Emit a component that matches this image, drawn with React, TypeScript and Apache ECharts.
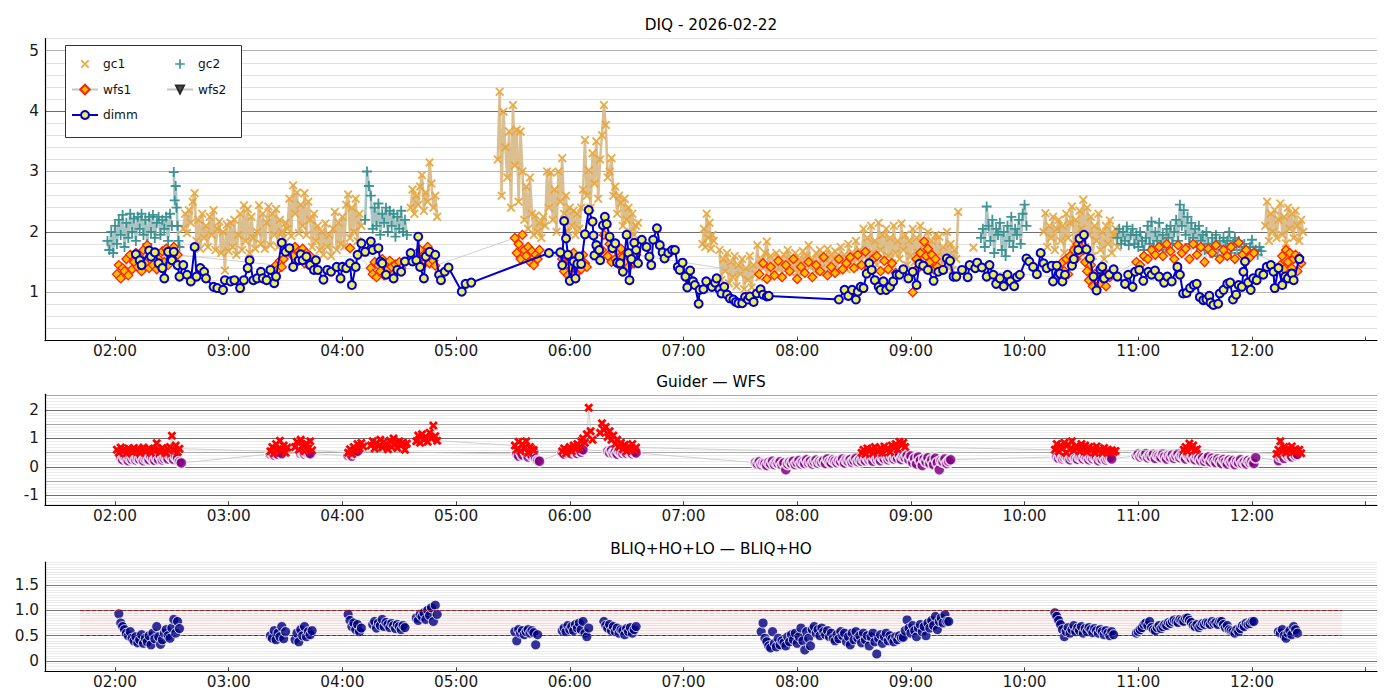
import { useEffect, useRef } from "react";
import * as echarts from "echarts";

// Seeing monitor night summary: DIQ (top), guider vs WFS (middle), BLIQ ratio (bottom).
// Times are local "HH:MM[:SS]"; a segment is [start, step in minutes, values].
type Seg = [string, number, number[]];

const TITLE_TOP = "DIQ - 2026-02-22";
const TITLE_MID = "Guider \u2014 WFS";
const TITLE_BOT = "BLIQ+HO+LO \u2014 BLIQ+HO";

const HOUR_TICKS = [2, 3, 4, 5, 6, 7, 8, 9, 10, 11, 12, 13];
const HOUR_LABELS = [2, 3, 4, 5, 6, 7, 8, 9, 10, 11, 12];
const X_MIN = 1.384;
const X_MAX = 13.1;

const GC1: Seg[] = [
  ["02:36", 1, [2.05, 2.3, 1.98, 2.36, 2.15, 2.5, 2.64, 1.85, 2.2, 1.72, 2.3, 1.9, 2.1, 1.75, 2.25, 1.95, 2.36, 1.7, 2.05, 2.17,
    1.65, 2.0, 1.36, 2.12, 1.68, 2.15, 1.75, 2.2, 1.62, 1.95, 2.3, 1.7, 2.44, 1.85, 2.38, 1.65, 2.25, 1.9, 1.72, 2.0,
    2.44, 1.8, 2.3, 1.72, 2.15, 2.42, 1.78, 2.3, 1.95, 2.38, 1.75, 2.2, 2.0, 1.9, 2.15, 2.05, 2.55, 1.93, 2.77, 2.3,
    2.65, 1.98, 2.45, 2.1, 2.64, 1.95, 2.5, 2.2, 1.75, 2.3, 1.85, 2.1, 1.7, 2.0, 1.62, 2.14, 1.75, 1.95, 1.6, 2.05,
    2.33, 1.7, 2.15, 1.8, 2.25, 1.76, 2.45, 2.62, 1.9, 2.4, 2.0, 2.55, 1.85, 2.3, 2.1]],
  ["04:36", 1, [2.4, 2.7, 2.3, 2.6, 2.45, 2.75, 2.94, 2.35, 2.65, 2.5, 3.15, 2.8, 2.4, 2.6, 2.25]],
  ["05:22", 1, [3.2, 4.32, 2.6, 3.99, 3.4, 2.9, 3.66, 2.4, 4.1, 3.1, 3.69, 2.5, 3.66, 3.0, 2.2, 2.75, 2.05, 2.9, 2.3, 1.95,
    2.27, 2.0, 2.15, 1.9, 2.25, 2.1, 3.0, 2.4, 2.98, 2.2, 2.7, 2.0, 3.0, 2.5, 3.22, 2.3, 2.6, 2.0, 2.4, 2.1,
    2.35, 1.95, 2.3, 2.05, 2.4, 2.7, 3.52, 2.6, 3.02, 2.4, 3.3, 2.8, 3.5, 2.55, 3.2, 3.6, 4.1, 3.77, 2.9, 3.0,
    3.22, 2.6, 2.75, 2.3, 2.6, 2.48, 2.1, 2.55, 2.2, 2.4, 2.0, 2.3, 1.95, 2.1, 2.15]],
  ["07:10", 0.75, [1.8, 2.05, 1.75, 2.3, 1.9, 2.15, 1.72, 1.95, 1.85]],
  ["07:19", 1, [1.7, 1.2, 1.55, 1.35, 1.65, 1.15, 1.5, 1.25, 1.6, 1.1, 1.45, 1.3, 1.55, 1.05, 1.4, 1.2, 1.6, 1.08, 1.45, 1.3,
    1.78, 1.25, 1.55, 1.4, 1.65, 1.84, 1.35, 1.6, 1.45, 1.3, 1.65, 1.4, 1.55, 1.32, 1.62, 1.45, 1.7, 1.35, 1.58, 1.4,
    1.65, 1.33, 1.55, 1.45, 1.68, 1.38, 1.6, 1.78, 1.42, 1.55, 1.35, 1.65, 1.45, 1.7, 1.4, 1.58, 1.33, 1.72, 1.48, 1.62,
    1.4, 1.68, 1.36, 1.55, 1.75, 1.45, 1.62, 1.38, 1.8, 1.5, 1.66, 1.42, 1.85, 1.55, 1.7, 1.45, 2.05, 1.6, 1.9, 1.5,
    2.1, 1.65, 1.85, 1.45, 2.15, 1.7, 1.95, 1.55, 2.05, 1.6, 1.9, 1.48, 2.1, 1.65, 1.85, 1.55, 2.14, 1.7, 1.95, 1.45,
    1.85, 1.6, 2.05, 1.5, 1.9, 1.65, 2.1, 1.45, 1.8, 1.58, 2.0, 1.5, 1.85, 1.4, 1.95, 1.6, 1.92, 1.45, 1.75, 1.55,
    2.0, 1.4, 1.8, 1.37, 1.7, 1.55, 2.33]],
  ["09:33", 1, [1.74]],
  ["10:10", 1, [2.0, 2.31, 1.75, 2.1, 1.9, 2.25, 1.7, 2.05, 2.2, 1.85, 2.1, 1.65, 2.3, 1.9, 2.15, 2.42, 1.8, 2.2, 1.6, 2.35,
    2.05, 2.53, 1.75, 2.4, 1.95, 2.25, 1.6, 2.1, 1.85, 2.3, 1.7, 2.0, 1.55, 2.1, 1.8, 2.19, 1.65, 1.95, 2.05, 1.75]],
  ["12:07", 1, [2.1, 2.5, 1.85, 2.3, 2.0, 2.36, 1.9, 2.2, 2.47, 1.95, 2.25, 1.81, 2.4, 2.05, 2.3, 1.9, 2.35, 2.1, 1.85, 2.2, 2.0]],
];

const GC2: Seg[] = [
  ["01:56", 1, [1.85, 1.7, 2.0, 1.65, 2.1, 1.8, 2.2, 1.95, 2.28, 1.75, 2.15, 1.9, 2.3, 2.0, 2.22, 1.85, 2.25, 2.05, 2.3, 1.95,
    2.2, 1.8, 2.25, 2.0, 2.28, 1.9, 2.15, 2.25, 1.95, 2.2, 2.05, 2.25, 1.85, 2.3, 2.1]],
  ["02:31", 0.5, [2.99, 2.52, 2.76, 2.4, 2.1, 1.85, 1.75]],
  ["04:12", 1, [2.2, 3.0, 2.76, 2.6, 2.05, 2.4, 2.1, 2.47, 1.95, 2.3, 2.15, 2.4, 2.0, 2.35, 2.1, 2.3, 1.92, 2.25, 2.05, 2.35,
    2.0, 2.2, 1.95]],
  ["09:37", 1, [1.9, 2.05, 1.75, 2.42, 2.1, 1.85, 2.2, 1.65, 2.05, 1.95, 2.15, 1.7, 2.0, 1.6, 2.1, 1.85, 2.25, 1.75, 2.05, 1.95,
    2.2, 1.8, 2.3, 2.45, 2.1]],
  ["10:49", 1, [1.9, 2.05, 1.8, 2.0, 1.85, 2.09, 1.78, 1.95, 2.05, 1.8, 1.95, 1.75, 2.0, 1.85, 1.7, 1.9, 2.1, 1.8, 2.17, 1.75,
    2.0, 1.85, 2.15, 1.78, 1.95, 1.7, 2.05, 1.9, 2.1, 1.8, 2.0, 2.2, 1.85, 2.45, 2.1, 2.36, 1.95, 2.25, 1.8, 2.15,
    1.9, 2.05, 1.75, 2.1, 1.85, 1.95, 1.7, 2.0, 1.8, 1.65, 1.9, 1.75, 1.95, 1.6, 1.85, 1.7, 1.9, 1.75, 1.85, 2.0,
    1.65, 1.8, 1.9, 1.7, 1.85, 1.75, 1.65, 1.8, 1.7, 1.6, 1.75, 1.87, 1.65, 1.7, 1.62, 1.75, 1.68]],
];

const WFS1: Seg[] = [
  ["02:01", 1, [1.3, 1.45, 1.23, 1.4, 1.35, 1.55, 1.28, 1.62, 1.38, 1.5, 1.65, 1.42, 1.58, 1.35, 1.7, 1.48, 1.78, 1.4, 1.6, 1.45,
    1.62, 1.38, 1.55, 1.42, 1.68, 1.5, 1.72, 1.45, 1.65, 1.58, 1.75, 1.5, 1.62]],
  ["03:25", 1, [1.45, 1.38, 1.52, 1.42, 1.55]],
  ["03:34", 1, [1.6, 1.75, 1.5, 1.68, 1.58, 1.72, 1.48, 1.65, 1.55, 1.6]],
  ["04:04", 1, [1.73]],
  ["04:15", 1, [1.4, 1.3, 1.5, 1.25, 1.45, 1.35, 1.55, 1.28, 1.48, 1.38, 1.52, 1.42, 1.3, 1.46, 1.36, 1.5, 1.4]],
  ["04:40", 1, [1.55, 1.7, 1.45, 1.62, 1.5, 1.75, 1.48, 1.6, 1.52, 1.44]],
  ["05:31", 1, [1.9, 1.65, 1.8, 1.55, 1.95, 1.7, 1.6, 1.75, 1.5, 1.68, 1.45, 1.62, 1.55, 1.7]],
  ["05:56", 1, [1.55, 1.35, 1.6, 1.28, 1.5, 1.4, 1.65, 1.3, 1.45, 1.55, 1.38, 1.62, 1.48, 1.42]],
  ["06:17", 1, [1.7, 1.95, 2.14, 1.6, 1.8, 1.5, 1.75, 1.55, 1.68, 1.45, 1.72, 1.58, 1.5, 1.65, 1.42, 1.6, 1.55, 1.48, 1.62]],
  ["07:40", 2, [1.3, 1.48, 1.22, 1.42, 1.28, 1.52, 1.25, 1.45, 1.35, 1.55, 1.22, 1.42, 1.32, 1.5, 1.25, 1.45, 1.35, 1.58, 1.28, 1.42,
    1.32, 1.55, 1.38, 1.48, 1.58, 1.4, 1.62, 1.45, 1.67, 1.4, 1.55, 1.6, 1.35, 1.52, 1.38, 1.48, 1.32]],
  ["09:01", 1, [1.0, 1.35, 1.55, 1.4, 1.65, 1.45, 1.84, 1.6, 1.72, 1.5, 1.62, 1.38, 1.55, 1.42]],
  ["10:17", 1, [1.25, 1.4, 1.2, 1.5, 1.35, 1.55, 1.3, 1.6, 1.45, 1.7, 1.55, 1.8, 1.65, 1.88, 1.7, 1.5, 1.35, 1.2, 1.45, 1.1,
    1.3, 1.05, 1.25, 1.15, 1.35, 1.2, 1.1, 1.3, 1.25]],
  ["10:59", 2, [1.5, 1.45, 1.6, 1.55, 1.7, 1.62, 1.75, 1.6, 1.8, 1.68, 1.55, 1.78, 1.65, 1.72, 1.55, 1.8, 1.62, 1.75, 1.5, 1.72,
    1.65, 1.78, 1.55, 1.7, 1.6, 1.75, 1.55, 1.82, 1.62, 1.7, 1.58, 1.65]],
  ["12:15", 1, [1.45, 1.6, 1.38, 1.7, 1.5, 1.65, 1.4, 1.55, 1.62, 1.35, 1.58, 1.48]],
];

const DIMM: [string, number][] = [
  ["02:11", 1.63], ["02:13", 1.53], ["02:14", 1.45], ["02:18", 1.69], ["02:19", 1.59], ["02:21", 1.66], ["02:23", 1.48],
  ["02:25", 1.4], ["02:26", 1.23], ["02:28", 1.67], ["02:30", 1.53], ["02:31", 1.67], ["02:33", 1.45], ["02:34", 1.26],
  ["02:36", 1.45], ["02:38", 1.29], ["02:40", 1.18], ["02:42", 1.75], ["02:43", 1.26], ["02:45", 1.4], ["02:47", 1.34],
  ["02:48", 1.23], ["02:52", 1.09], ["02:54", 1.07], ["02:57", 1.04], ["02:58", 1.2], ["03:01", 1.18], ["03:03", 1.2],
  ["03:06", 1.07], ["03:08", 1.2], ["03:10", 1.4], ["03:11", 1.53], ["03:13", 1.2], ["03:15", 1.23], ["03:17", 1.34],
  ["03:18", 1.23], ["03:20", 1.2], ["03:22", 1.37], ["03:24", 1.15], ["03:25", 1.26], ["03:28", 1.82], ["03:30", 1.67],
  ["03:32", 1.73], ["03:34", 1.42], ["03:37", 1.53], ["03:38", 1.63], ["03:39", 1.53], ["03:41", 1.59], ["03:43", 1.45],
  ["03:45", 1.37], ["03:46", 1.53], ["03:47", 1.37], ["03:50", 1.21], ["03:52", 1.37], ["03:54", 1.34], ["03:57", 1.42],
  ["03:59", 1.23], ["04:00", 1.42], ["04:02", 1.4], ["04:04", 1.48], ["04:05", 1.12], ["04:07", 1.42], ["04:08", 1.62],
  ["04:10", 1.81], ["04:12", 1.67], ["04:15", 1.84], ["04:16", 1.7], ["04:19", 1.73], ["04:20", 1.51], ["04:21", 1.48],
  ["04:23", 1.29], ["04:27", 1.23], ["04:29", 1.37], ["04:31", 1.34], ["04:33", 1.51], ["04:36", 1.65], ["04:37", 1.51],
  ["04:39", 1.53], ["04:40", 1.92], ["04:41", 1.42], ["04:43", 1.23], ["04:44", 1.59], ["04:46", 1.67], ["04:49", 1.62],
  ["04:51", 1.29], ["04:52", 1.2], ["04:54", 1.34], ["04:56", 1.41], ["05:03", 1.01], ["05:05", 1.14], ["05:08", 1.16],
  ["05:49", 1.65], ["05:55", 1.66], ["05:56", 1.45], ["05:57", 2.18], ["05:58", 1.89], ["05:59", 1.62], ["06:00", 1.19],
  ["06:02", 1.51], ["06:03", 1.23], ["06:04", 1.47], ["06:05", 1.59], ["06:06", 1.47], ["06:08", 1.96], ["06:10", 2.36],
  ["06:12", 2.17], ["06:12:30", 1.94], ["06:13", 1.61], ["06:14", 1.78], ["06:15:30", 1.7], ["06:16", 1.53],
  ["06:17:30", 2.11], ["06:18:30", 2.25], ["06:19:30", 2.13], ["06:21", 1.92], ["06:22:30", 1.73], ["06:24", 1.81],
  ["06:25", 1.49], ["06:26:30", 1.48], ["06:28", 1.34], ["06:30", 1.95], ["06:31", 1.65], ["06:31:30", 1.2],
  ["06:32:30", 1.55], ["06:34", 1.82], ["06:35", 1.7], ["06:36", 1.48], ["06:38", 1.87], ["06:40:30", 1.75], ["06:42", 1.59],
  ["06:43", 1.45], ["06:44", 1.87], ["06:46", 2.06], ["06:47:30", 1.78], ["06:49", 1.66], ["06:50", 1.56], ["06:52", 1.65],
  ["06:54", 1.7], ["06:55:30", 1.7], ["06:57", 1.42], ["06:58", 1.37], ["06:59:30", 1.49], ["07:01", 1.26], ["07:02", 1.08],
  ["07:03:30", 1.36], ["07:05", 1.18], ["07:06", 1.12], ["07:08", 0.81], ["07:08:30", 1.04], ["07:10:30", 1.05],
  ["07:12", 1.18], ["07:15", 1.09], ["07:16:40", 1.16], ["07:17:30", 1.23], ["07:19", 1.05], ["07:20", 0.98],
  ["07:21:30", 1.09], ["07:23", 0.96], ["07:24:30", 0.9], ["07:26:20", 0.88], ["07:27:40", 0.84], ["07:29", 0.82],
  ["07:31", 0.82], ["07:32:30", 0.92], ["07:34", 0.88], ["07:35", 0.93], ["07:37", 0.84], ["07:38:40", 0.98],
  ["07:40:40", 1.05], ["07:42", 0.96], ["07:44", 0.93], ["07:45", 0.94],
  ["08:22", 0.88], ["08:25", 1.04], ["08:27", 0.94], ["08:29", 1.04], ["08:31", 0.88], ["08:32", 1.01], ["08:33:30", 1.09],
  ["08:35", 1.07], ["08:36:40", 1.31], ["08:38", 1.48], ["08:39:20", 1.37], ["08:41", 1.2], ["08:43", 1.09], ["08:44", 1.04],
  ["08:45:30", 1.18], ["08:47", 1.04], ["08:49", 1.09], ["08:50:40", 1.18], ["08:52:30", 1.29], ["08:54", 1.29],
  ["08:56", 1.38], ["08:58:40", 1.23], ["09:01", 1.34], ["09:03", 1.12], ["09:04:30", 1.47], ["09:06:30", 1.44],
  ["09:09", 1.37], ["09:12", 1.19], ["09:14:30", 1.34], ["09:17", 1.37], ["09:19", 1.56], ["09:20:40", 1.52],
  ["09:22:30", 1.26], ["09:24", 1.26], ["09:27", 1.37], ["09:30", 1.25], ["09:31", 1.45], ["09:34", 1.4], ["09:35", 1.49],
  ["09:37:30", 1.41], ["09:40", 1.26], ["09:41:30", 1.45], ["09:43:30", 1.29], ["09:45", 1.14], ["09:47", 1.23],
  ["09:49", 1.1], ["09:51", 1.29], ["09:52:40", 1.18], ["09:54:30", 1.1], ["09:56", 1.25], ["09:57:30", 1.29],
  ["10:01", 1.56], ["10:02:30", 1.51], ["10:04:30", 1.42], ["10:06:30", 1.3], ["10:08:30", 1.65], ["10:10", 1.48],
  ["10:11:40", 1.4], ["10:14:20", 1.44], ["10:15", 1.18], ["10:17", 1.44], ["10:18:40", 1.31], ["10:20", 1.18],
  ["10:21:20", 1.29], ["10:25", 1.44], ["10:26", 1.55], ["10:28:20", 1.7], ["10:29", 1.89], ["10:31:20", 1.95],
  ["10:32:40", 1.71], ["10:34:30", 1.56], ["10:36:20", 1.26], ["10:38", 1.03], ["10:40", 1.38], ["10:41", 1.42],
  ["10:42", 1.23], ["10:44:40", 1.29], ["10:47", 1.38], ["10:49", 1.26], ["10:53", 1.14], ["10:54:40", 1.29],
  ["10:57", 1.09], ["10:58:20", 1.34], ["11:00:30", 1.37], ["11:02:40", 1.19], ["11:05:20", 1.34], ["11:07", 1.29],
  ["11:08:50", 1.36], ["11:11", 1.26], ["11:13:40", 1.16], ["11:15:20", 1.26], ["11:17:40", 1.18], ["11:20:40", 1.42],
  ["11:22", 1.29], ["11:23:40", 0.98], ["11:25:30", 0.99], ["11:27:20", 1.07], ["11:29:20", 1.12], ["11:30:50", 1.14],
  ["11:32:30", 0.92], ["11:34:20", 0.87], ["11:36", 0.88], ["11:37:30", 0.94], ["11:38:10", 0.83], ["11:39:40", 0.79],
  ["11:42:10", 0.81], ["11:43", 0.98], ["11:45", 1.04], ["11:47", 1.14], ["11:48:30", 1.16], ["11:50", 0.88],
  ["11:51:40", 0.96], ["11:53", 1.12], ["11:54:40", 1.09], ["11:55:30", 1.34], ["11:56:20", 1.51], ["11:58", 1.16],
  ["11:59:20", 1.04], ["12:00:40", 1.23], ["12:02:30", 1.2], ["12:04", 1.32], ["12:06", 1.29], ["12:07:50", 1.42],
  ["12:10", 1.45], ["12:11:20", 1.34], ["12:12", 1.07], ["12:14", 1.4], ["12:16", 1.12], ["12:17:30", 1.26],
  ["12:19", 1.23], ["12:21", 1.31], ["12:22", 1.2], ["12:25", 1.55],
];

// middle panel: guider (purple) and WFS (red x)
const GUIDER: Seg[] = [
  ["02:03", 1, [0.32, 0.25, 0.35, 0.28, 0.22, 0.3, 0.26, 0.33, 0.24, 0.3, 0.27, 0.34, 0.22, 0.29, 0.31, 0.25, 0.36, 0.28, 0.23, 0.32,
    0.26, 0.38, 0.24, 0.3, 0.35, 0.28, 0.4, 0.32, 0.26, 0.36, 0.3, 0.18, 0.14]],
  ["03:22", 1, [0.45, 0.5, 0.42, 0.48, 0.44, 0.52, 0.46]],
  ["03:38", 1, [0.48, 0.52, 0.45, 0.5, 0.47, 0.46]],
  ["04:03", 1, [0.4, 0.45, 0.38, 0.48, 0.5, 0.55]],
  ["05:32", 1, [0.45, 0.38, 0.55, 0.42, 0.6, 0.5, 0.35, 0.48, 0.4, 0.52, 0.3, 0.22, 0.2]],
  ["05:56", 1, [0.5, 0.45, 0.55, 0.48, 0.52, 0.46, 0.58, 0.5, 0.47, 0.55, 0.52, 0.6]],
  ["06:20", 1, [0.55, 0.5, 0.58, 0.48, 0.52, 0.45, 0.56, 0.5, 0.47, 0.53, 0.48, 0.55, 0.5, 0.46, 0.52, 0.49]],
  ["07:38", 1, [0.15, 0.1, 0.18, 0.08, 0.14, 0.12, 0.05, 0.16, 0.1, 0.2, 0.08, 0.15, 0.12, 0.18, 0.06, 0.14, -0.1, 0.1, 0.17, 0.12,
    0.2, 0.08, 0.15, 0.22, 0.1, 0.18, 0.12, 0.25, 0.14, 0.2, 0.1, 0.18, 0.24, 0.13, 0.2, 0.16, 0.22, 0.12, 0.28, 0.18,
    0.14, 0.25, 0.2, 0.15, 0.22, 0.18, 0.28, 0.14, 0.24, 0.2, 0.26, 0.16, 0.22, 0.3, 0.18, 0.25, 0.2, 0.28, 0.22, 0.32,
    0.24, 0.3, 0.2, 0.35, 0.26, 0.3, 0.22, 0.34, 0.28, 0.38, 0.25, 0.32, 0.4, 0.28, 0.35, 0.3, 0.42, 0.26, 0.36, 0.32,
    0.4, 0.25, 0.38, 0.15, 0.3, 0.1, 0.35, 0.22, 0.05, 0.28, 0.18, 0.32, 0.12, 0.25, 0.08, 0.3, 0.15, -0.1, 0.22, 0.18,
    0.28, 0.12, 0.2, 0.25]],
  ["10:17", 1, [0.35, 0.3, 0.38, 0.28, 0.33, 0.36, 0.3, 0.25, 0.34, 0.38, 0.3, 0.27, 0.35, 0.32, 0.28, 0.36, 0.3, 0.25, 0.33, 0.29,
    0.35, 0.31, 0.22, 0.3, 0.27, 0.34, 0.24, 0.3, 0.32, 0.28]],
  ["10:59", 1, [0.4, 0.45, 0.35, 0.42, 0.38, 0.46, 0.32, 0.4, 0.36, 0.44, 0.3, 0.42, 0.38, 0.33, 0.45, 0.36, 0.28, 0.4, 0.34, 0.42,
    0.3, 0.38, 0.45, 0.32, 0.4, 0.36, 0.28, 0.42, 0.34, 0.3, 0.38, 0.25, 0.35, 0.3, 0.22, 0.32, 0.2, 0.28, 0.35, 0.18,
    0.3, 0.22, 0.15, 0.28, 0.2, 0.12, 0.26, 0.18, 0.1, 0.24, 0.16, 0.22, 0.08, 0.2, 0.14, 0.25, 0.12, 0.18, 0.1, 0.22,
    0.15, 0.2, 0.12, 0.33]],
  ["12:14", 1, [0.22, 0.35, 0.4, 0.3, 0.45, 0.38, 0.42, 0.35, 0.48, 0.4, 0.44]],
];

const WFS: Seg[] = [
  ["02:01", 1, [0.6, 0.5, 0.68, 0.55, 0.62, 0.48, 0.65, 0.58, 0.52, 0.66, 0.55, 0.62, 0.5, 0.6, 0.68, 0.54, 0.58, 0.65, 0.5, 0.62,
    0.56, 0.83, 0.6, 0.52, 0.66, 0.55, 0.48, 0.62, 0.7, 1.09, 0.58, 0.75, 0.52, 0.64]],
  ["03:22", 1, [0.55, 0.7, 0.48, 0.8, 0.62, 0.92, 0.58, 0.75, 0.5, 0.68]],
  ["03:35", 1, [0.7, 0.88, 0.6, 0.95, 0.75, 0.55, 0.82, 0.65, 0.9, 0.58]],
  ["04:03", 1, [0.5, 0.62, 0.45, 0.7, 0.58, 0.8, 0.65, 0.84, 0.72]],
  ["04:15", 1, [0.75, 0.9, 0.65, 0.85, 0.72, 0.95, 0.68, 0.88, 0.78, 0.62, 0.92, 0.7, 1.0, 0.8, 0.66, 0.9, 0.74, 0.85, 0.6, 0.82]],
  ["04:39", 1, [0.9, 1.1, 0.85, 1.15, 0.95, 1.05, 0.88, 1.2, 1.0, 1.45, 1.08, 0.92]],
  ["05:31", 1, [0.75, 0.6, 0.88, 0.55, 0.8, 0.65, 0.9, 0.5, 0.7, 0.62, 0.58]],
  ["05:56", 1, [0.55, 0.65, 0.48, 0.6, 0.7, 0.55, 0.75, 0.62, 0.8, 0.68, 0.9, 1.0, 0.85, 1.15, 2.08, 1.25, 0.95]],
  ["06:16", 1, [1.2, 1.53, 1.3, 1.4, 1.05, 1.25, 0.95, 1.1, 0.8, 0.95, 0.7, 0.85, 0.62, 0.78, 0.55, 0.72, 0.6, 0.8, 0.58, 0.68]],
  ["08:34", 1, [0.5, 0.6, 0.45, 0.65, 0.55, 0.62, 0.48, 0.7, 0.58, 0.55, 0.66, 0.5, 0.72, 0.6, 0.65, 0.52, 0.75, 0.68, 0.8, 0.62,
    0.88, 0.78, 0.85, 0.7]],
  ["10:16", 1, [0.6, 0.8, 0.55, 0.75, 0.65, 0.85, 0.5, 0.78, 0.62, 0.9, 0.58, 0.72, 0.68, 0.55, 0.8, 0.6, 0.75, 0.52, 0.7, 0.58,
    0.65, 0.5, 0.72, 0.56, 0.62, 0.5, 0.66, 0.55, 0.6, 0.5, 0.58, 0.52, 0.56]],
  ["11:24", 1, [0.6, 0.7, 0.55, 0.82, 0.65, 0.75, 0.58, 0.62]],
  ["12:13", 1, [0.45, 0.6, 0.9, 0.55, 0.7, 0.5, 0.65, 0.58, 0.72, 0.52, 0.62, 0.55, 0.6, 0.48]],
];

// bottom panel
const BLIQ: Seg[] = [
  ["02:02", 1, [0.93, 0.75, 0.68, 0.62, 0.55, 0.5, 0.58, 0.45, 0.4, 0.48, 0.36, 0.42, 0.52, 0.35, 0.45, 0.38, 0.5, 0.32, 0.55, 0.44,
    0.68, 0.48, 0.33, 0.42, 0.55, 0.62, 0.5, 0.45, 0.65, 0.82, 0.55, 0.78, 0.64]],
  ["03:22", 1, [0.5, 0.45, 0.6, 0.42, 0.55, 0.48, 0.68, 0.44, 0.58]],
  ["03:35", 1, [0.42, 0.55, 0.38, 0.62, 0.5, 0.68, 0.48, 0.58, 0.52, 0.6]],
  ["04:03", 1, [0.92, 0.8, 0.68, 0.75, 0.62, 0.72, 0.58, 0.65]],
  ["04:16", 1, [0.72, 0.78, 0.65, 0.75, 0.7, 0.82, 0.68, 0.76, 0.72, 0.66, 0.74, 0.7, 0.64, 0.72, 0.68, 0.62, 0.7, 0.66]],
  ["04:39", 1, [0.85, 0.8, 0.92, 0.88, 0.95, 0.82, 1.0, 0.9, 1.05, 0.78, 1.1, 0.92]],
  ["05:31", 1, [0.58, 0.4, 0.62, 0.55, 0.6, 0.52, 0.58, 0.62, 0.55, 0.6, 0.56, 0.32, 0.52]],
  ["05:56", 1, [0.6, 0.65, 0.58, 0.7, 0.62, 0.68, 0.6, 0.72, 0.65, 0.75, 0.62, 0.78, 0.55, 0.48, 0.65]],
  ["06:18", 1, [0.78, 0.7, 0.65, 0.72, 0.6, 0.68, 0.58, 0.65, 0.55, 0.62, 0.6, 0.52, 0.64, 0.58, 0.66, 0.55, 0.62, 0.68]],
  ["07:41", 1, [0.58, 0.75, 0.45, 0.38, 0.3, 0.26, 0.58, 0.35, 0.28, 0.45, 0.32, 0.4, 0.36, 0.3, 0.48, 0.38, 0.52, 0.42, 0.55, 0.35,
    0.48, 0.65, 0.4, 0.22, 0.58, 0.45, 0.3, 0.62, 0.68, 0.55, 0.62, 0.5, 0.65, 0.58, 0.52, 0.6, 0.48, 0.55, 0.45, 0.4,
    0.52, 0.44, 0.58, 0.5, 0.55, 0.38, 0.48, 0.32, 0.55, 0.42, 0.58, 0.45, 0.5, 0.36, 0.55, 0.42, 0.5, 0.3, 0.48, 0.55,
    0.38, 0.14, 0.45, 0.52, 0.35, 0.48, 0.55, 0.4, 0.5, 0.44, 0.38, 0.48, 0.42, 0.5, 0.46, 0.47, 0.6, 0.81, 0.65, 0.55,
    0.7, 0.6, 0.48, 0.65, 0.72, 0.58, 0.68, 0.5, 0.75, 0.65, 0.8, 0.7, 0.88, 0.62, 0.78, 0.85, 0.75, 0.91, 0.78, 0.78]],
  ["10:16", 1, [0.95, 0.88, 0.8, 0.72, 0.62, 0.48, 0.58, 0.66, 0.55, 0.62, 0.7, 0.58, 0.65, 0.6, 0.68, 0.55, 0.64, 0.58, 0.66, 0.62,
    0.56, 0.64, 0.6, 0.55, 0.62, 0.58, 0.52, 0.6, 0.55, 0.5, 0.58, 0.52]],
  ["10:59", 1, [0.55, 0.58, 0.62, 0.66, 0.72, 0.75, 0.7, 0.78, 0.66, 0.62, 0.6, 0.66, 0.7, 0.64, 0.68, 0.72, 0.7, 0.76, 0.74, 0.78,
    0.81, 0.78, 0.76, 0.82, 0.8, 0.78, 0.84, 0.85, 0.8, 0.76, 0.7, 0.68, 0.72, 0.66, 0.7, 0.74, 0.72, 0.76, 0.75, 0.72,
    0.78, 0.74, 0.76, 0.72, 0.78, 0.78, 0.72, 0.66, 0.7, 0.62, 0.6, 0.58, 0.55, 0.62, 0.58, 0.64, 0.7, 0.68, 0.75, 0.72,
    0.74, 0.78, 0.78]],
  ["12:14", 1, [0.58, 0.55, 0.62, 0.5, 0.45, 0.55, 0.6, 0.52, 0.68, 0.62, 0.55]],
];

const BAND_FROM = "01:41:30";
const BAND_TO = "12:47:30";
const BAND_LOW = 0.5;
const BAND_HIGH = 1.0;

const FONT = '"DejaVu Sans", Verdana, sans-serif';
const X_MARK = "path://M0,1.5 L1.5,0 L5,3.5 L8.5,0 L10,1.5 L6.5,5 L10,8.5 L8.5,10 L5,6.5 L1.5,10 L0,8.5 L3.5,5 Z";
const X_BOLD = "path://M0,2.2 L2.2,0 L5,2.8 L7.8,0 L10,2.2 L7.2,5 L10,7.8 L7.8,10 L5,7.2 L2.2,10 L0,7.8 L2.8,5 Z";
const PLUS = "path://M4.1,0 H5.9 V4.1 H10 V5.9 H5.9 V10 H4.1 V5.9 H0 V4.1 H4.1 Z";
const TRI_DOWN = "path://M0,0 L10,0 L5,8.66 Z";

const toHours = (t: string) => {
  const p = t.split(":").map(Number);
  return p[0] + p[1] / 60 + (p[2] ?? 0) / 3600;
};

function fromSegs(segs: Seg[], breakBetween = false) {
  const out: (number | null)[][] = [];
  segs.forEach(([t0, step, vals], k) => {
    const h0 = toHours(t0);
    if (breakBetween && k > 0) out.push([h0, null]);
    vals.forEach((v, i) => out.push([h0 + (i * step) / 60, v]));
  });
  return out;
}

// splitLine colours cycle per tick, so a pattern marks majors / halves / minors
const L = "#e2e2e2";
const TOP_GRID = [L, L, L, L, "#b4b4b4", L, L, L, L, "#6e6e6e"];
const MID_GRID = Array.from({ length: 20 }, (_, i) =>
  i === 7 ? "#6e6e6e" : i === 17 ? "#a8a8a8" : i % 2 ? "#ececec" : "rgba(0,0,0,0)",
);
const BOT_GRID = Array.from({ length: 10 }, (_, i) => (i === 4 ? "#7a7a7a" : "#ebebeb"));

const near = (a: number, b: number) => Math.abs(a - b) < 1e-6;

function xAxis(gridIndex: number) {
  return {
    type: "value",
    gridIndex,
    min: X_MIN,
    max: X_MAX,
    axisLine: { onZero: false, lineStyle: { color: "#000", width: 1.2 } },
    axisTick: { show: true, inside: true, length: 4, customValues: HOUR_TICKS, lineStyle: { color: "#444" } },
    axisLabel: {
      customValues: HOUR_LABELS,
      formatter: (v: number) => `${String(Math.round(v)).padStart(2, "0")}:00`,
      fontSize: 15.3,
      fontFamily: FONT,
      color: "#1a1a1a",
      margin: 3,
    },
    splitLine: { show: false },
  };
}

function yAxis(gridIndex: number, min: number, max: number, interval: number, colors: string[], fmt: (v: number) => string) {
  return {
    type: "value",
    gridIndex,
    min,
    max,
    interval,
    axisLine: { show: true, onZero: false, lineStyle: { color: "#000", width: 1.2 } },
    axisTick: { show: false },
    axisLabel: { formatter: fmt, fontSize: 15.3, fontFamily: FONT, color: "#1a1a1a", margin: 6 },
    splitLine: { show: true, lineStyle: { color: colors, width: 1 } },
  };
}

// one legend per entry so the boxed two-column layout can be placed exactly
function legendItem(name: string, left: number, centerY: number, itemHeight: number, hideLine = false) {
  return {
    data: [hideLine ? { name, lineStyle: { opacity: 0 } } : { name }],
    left,
    top: centerY - 7,
    padding: 0,
    itemWidth: 26,
    itemHeight,
    selectedMode: false,
    textStyle: { fontSize: 12.2, lineHeight: 14, fontFamily: FONT, color: "#111" },
  };
}

export default function App() {
  const ref = useRef<HTMLDivElement | null>(null);

  useEffect(() => {
    document.body.style.margin = "0";
    if (!ref.current) return;
    const chart = echarts.init(ref.current, undefined, { renderer: "svg" });
    const thin = { color: "#c4c4c4", width: 0.8 };

    chart.setOption({
      animation: false,
      backgroundColor: "#fff",
      textStyle: { fontFamily: FONT },
      grid: [
        { left: 45, right: 23, top: 38.6, height: 302, outerBoundsMode: "none" },
        { left: 45, right: 23, top: 394.3, height: 111, outerBoundsMode: "none" },
        { left: 45, right: 23, top: 562, height: 109.3, outerBoundsMode: "none" },
      ],
      xAxis: [xAxis(0), xAxis(1), xAxis(2)],
      yAxis: [
        yAxis(0, 0.2, 5.2, 0.2, TOP_GRID, (v) => (near(v, Math.round(v)) ? String(Math.round(v)) : "")),
        yAxis(1, -1.35, 2.55, 0.05, MID_GRID, (v) => (near(v, Math.round(v)) ? String(Math.round(v)) : "")),
        yAxis(2, -0.2, 1.95, 0.05, BOT_GRID, (v) =>
          near(v * 2, Math.round(v * 2)) ? (near(v, 0) ? "0" : v.toFixed(1)) : "",
        ),
      ],
      legend: [
        legendItem("gc1", 71, 64, 11, true),
        legendItem("wfs1", 71, 89.5, 12),
        legendItem("dimm", 71, 115, 10),
        legendItem("gc2", 166, 64, 12, true),
        legendItem("wfs2", 166, 89.5, 10),
      ],
      graphic: [
        { type: "rect", z: 3, shape: { x: 65.5, y: 45.5, width: 176, height: 92 }, style: { fill: "#fff", stroke: "#333", lineWidth: 1 } },
        { type: "text", x: 711, y: 25, style: { text: TITLE_TOP, font: `15.3px ${FONT}`, fill: "#000", textAlign: "center", textVerticalAlign: "middle" } },
        { type: "text", x: 711, y: 382, style: { text: TITLE_MID, font: `15.3px ${FONT}`, fill: "#000", textAlign: "center", textVerticalAlign: "middle" } },
        { type: "text", x: 711, y: 549, style: { text: TITLE_BOT, font: `15.3px ${FONT}`, fill: "#000", textAlign: "center", textVerticalAlign: "middle" } },
      ],
      series: [
        {
          name: "gc1", type: "line", xAxisIndex: 0, yAxisIndex: 0, data: fromSegs(GC1, true),
          symbol: X_MARK, symbolSize: 9, showAllSymbol: true, connectNulls: false,
          itemStyle: { color: "#e6a53c", opacity: 0.9 }, lineStyle: { color: "rgba(216,184,132,0.9)", width: 2.6 }, z: 2,
        },
        {
          name: "gc2", type: "line", xAxisIndex: 0, yAxisIndex: 0, data: fromSegs(GC2, true),
          symbol: PLUS, symbolSize: 10, showAllSymbol: true, connectNulls: false,
          itemStyle: { color: "#2f8c8c", opacity: 0.9 }, lineStyle: { color: "rgba(160,190,190,0.9)", width: 2.6 }, z: 2,
        },
        {
          name: "wfs1", type: "line", xAxisIndex: 0, yAxisIndex: 0, data: fromSegs(WFS1),
          symbol: "diamond", symbolSize: 9, showAllSymbol: true,
          itemStyle: { color: "#ffc000", borderColor: "#ff2200", borderWidth: 1.3 }, lineStyle: thin, z: 3,
        },
        {
          name: "wfs2", type: "line", xAxisIndex: 0, yAxisIndex: 0, data: [],
          symbol: TRI_DOWN, symbolSize: 8,
          itemStyle: { color: "#4a4a5a", borderColor: "#2a2a2a", borderWidth: 0.5 }, lineStyle: thin, z: 3,
        },
        {
          name: "dimm", type: "line", xAxisIndex: 0, yAxisIndex: 0, data: DIMM.map(([t, v]) => [toHours(t), v]),
          symbol: "circle", symbolSize: 8, showAllSymbol: true,
          itemStyle: { color: "#eded55", borderColor: "#0000cc", borderWidth: 2 }, lineStyle: { color: "#0000cc", width: 2 }, z: 4,
        },
        {
          name: "guider", type: "line", xAxisIndex: 1, yAxisIndex: 1, data: fromSegs(GUIDER),
          symbol: "circle", symbolSize: 11, showAllSymbol: true,
          itemStyle: { color: "#800080", borderColor: "rgba(255,255,255,0.9)", borderWidth: 1.6, opacity: 0.85 }, lineStyle: thin, z: 2,
        },
        {
          name: "wfs", type: "line", xAxisIndex: 1, yAxisIndex: 1, data: fromSegs(WFS),
          symbol: X_BOLD, symbolSize: 9, showAllSymbol: true,
          itemStyle: { color: "#ff0000" }, lineStyle: thin, z: 3,
        },
        {
          name: "band", type: "line", xAxisIndex: 2, yAxisIndex: 2, data: [], z: 1,
          markArea: {
            silent: true,
            itemStyle: { color: "rgba(235,90,90,0.07)" },
            data: [[{ xAxis: toHours(BAND_FROM), yAxis: BAND_LOW }, { xAxis: toHours(BAND_TO), yAxis: BAND_HIGH }]],
          },
          markLine: {
            silent: true,
            symbol: "none",
            label: { show: false },
            lineStyle: { color: "#a51d1d", type: [4, 2], width: 1.2 },
            data: [BAND_LOW, BAND_HIGH].map((y) => [
              { coord: [toHours(BAND_FROM), y] },
              { coord: [toHours(BAND_TO), y] },
            ]),
          },
        },
        {
          name: "bliq", type: "scatter", xAxisIndex: 2, yAxisIndex: 2, data: fromSegs(BLIQ),
          symbol: "circle", symbolSize: 10,
          itemStyle: { color: "#000080", borderColor: "#ffffff", borderWidth: 1 }, z: 3,
        },
      ],
    });

    return () => chart.dispose();
  }, []);

  return <div ref={ref} style={{ width: 1400, height: 700 }} />;
}
